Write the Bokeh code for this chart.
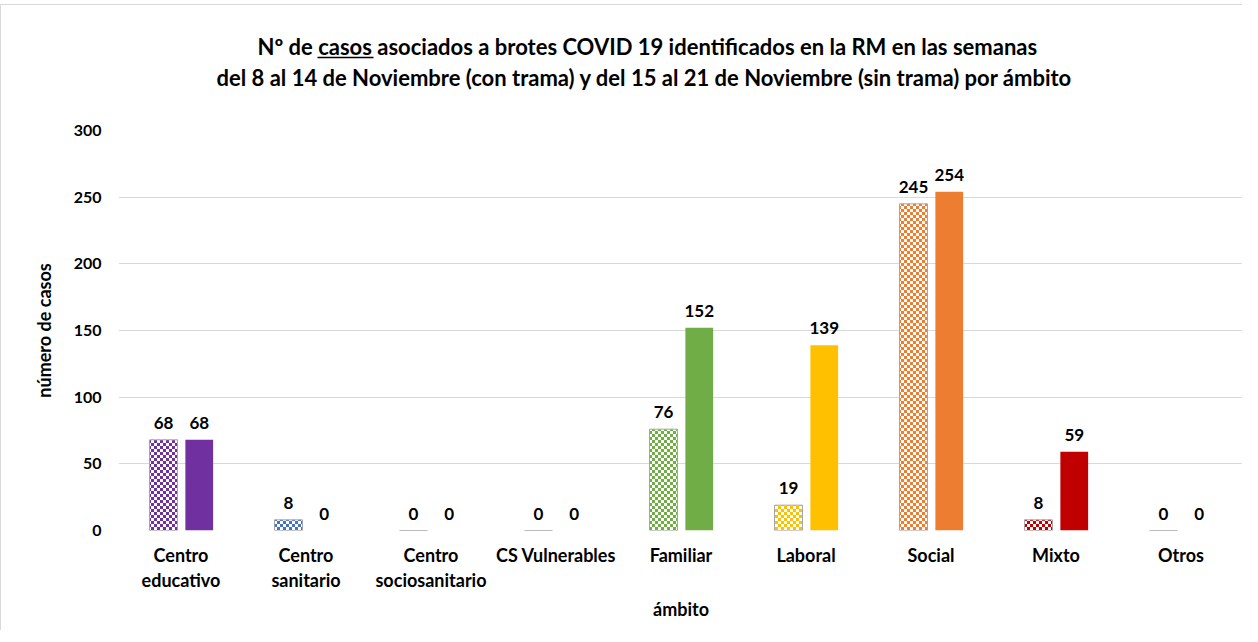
import zlib, struct, base64
from bokeh.plotting import figure
from bokeh.models import (ColumnDataSource, FactorRange, Range1d, FixedTicker, Title,
                          ImageURLTexture, CategoricalAxis, CustomJSTickFormatter)
from bokeh.transform import dodge
from bokeh.core.properties import value
from bokeh.embed import file_html
from bokeh.resources import INLINE

# ---------------- data ----------------
categories = ["Centro educativo", "Centro sanitario", "Centro sociosanitario", "CS Vulnerables",
              "Familiar", "Laboral", "Social", "Mixto", "Otros"]
label_line1 = ["Centro", "Centro", "Centro", "CS Vulnerables",
               "Familiar", "Laboral", "Social", "Mixto", "Otros"]
label_line2 = ["educativo", "sanitario", "sociosanitario", "", "", "", "", "", ""]
week_8_14 = [68, 8, 0, 0, 76, 19, 245, 8, 0]      # con trama
week_15_21 = [68, 0, 0, 0, 152, 139, 254, 59, 0]  # sin trama
colors = ["#7030A0", "#4472C4", "#A5A5A5", "#5B9BD5", "#70AD47", "#FFC000", "#ED7D31", "#C00000", "#7F7F7F"]
y_ticks = [0, 50, 100, 150, 200, 250, 300]

title_line1 = "Nº de casos asociados a brotes COVID 19 identificados en la RM en las semanas"
title_line2 = "del 8 al 14 de Noviembre (con trama) y del 15 al 21 de Noviembre (sin trama) por ámbito"
x_label = "ámbito"
y_label = "número de casos"

FONT = "Lato"
PX_PER_CAT = 125.0  # frame width 1125 / 9 categories


def checker_png(hex_color, sq=3):
    r, g, b = int(hex_color[1:3], 16), int(hex_color[3:5], 16), int(hex_color[5:7], 16)
    n = 2 * sq
    raw = b""
    for yy in range(n):
        raw += b"\x00"
        for xx in range(n):
            if ((xx // sq) + (yy // sq)) % 2 == 0:
                raw += bytes([r, g, b, 255])
            else:
                raw += bytes([255, 255, 255, 255])

    def chunk(t, d):
        return struct.pack(">I", len(d)) + t + d + struct.pack(">I", zlib.crc32(t + d) & 0xffffffff)

    png = (b"\x89PNG\r\n\x1a\n" + chunk(b"IHDR", struct.pack(">IIBBBBB", n, n, 8, 6, 0, 0, 0))
           + chunk(b"IDAT", zlib.compress(raw)) + chunk(b"IEND", b""))
    return "data:image/png;base64," + base64.b64encode(png).decode()


def label_formatter(lines):
    return CustomJSTickFormatter(args=dict(keys=categories, vals=lines),
                                 code="const i = keys.indexOf(tick); return i >= 0 ? vals[i] : tick;")


pattern_keys = ["chk%d" % i for i in range(len(categories))]
textures = {k: ImageURLTexture(url=checker_png(c)) for k, c in zip(pattern_keys, colors)}

source = ColumnDataSource(dict(
    cat=categories, w1=week_8_14, w2=week_15_21, color=colors, pat=pattern_keys,
    t1=[str(v) for v in week_8_14], t2=[str(v) for v in week_15_21],
))

p = figure(x_range=FactorRange(factors=categories), y_range=Range1d(0, 300),
           width=1242, height=626, output_backend="svg", toolbar_location=None,
           min_border_left=117, min_border_right=0, min_border_top=125, min_border_bottom=101)
p.styles = {"margin-top": "4px", "border-left": "1px solid #d9d9d9", "border-top": "1px solid #d9d9d9"}
p.outline_line_color = None
p.background_fill_color = "white"
p.border_fill_color = "white"

p.xgrid.grid_line_color = None
p.ygrid.grid_line_color = "#d9d9d9"
p.ygrid.grid_line_width = 1.2

# bars
p.vbar(x=dodge("cat", -0.14, range=p.x_range), top="w1", width=0.224, source=source,
       fill_color="white", line_color="#a6a6a6", line_width=1,
       hatch_pattern="pat", hatch_extra=textures)
p.vbar(x=dodge("cat", 0.146, range=p.x_range), top="w2", width=0.222, source=source,
       fill_color="color", line_color=None)

# data labels
for off, tfld, yfld in [(-0.14, "t1", "w1"), (0.146, "t2", "w2")]:
    p.text(x=dodge("cat", off, range=p.x_range), y=yfld, text=tfld, source=source,
           y_offset=-11, text_align="center", text_baseline="bottom",
           text_font=value(FONT), text_font_style="bold", text_font_size="17px", text_color="black")

# second line of category labels
ax2 = CategoricalAxis()
p.add_layout(ax2, "below")

p.yaxis.ticker = FixedTicker(ticks=y_ticks)
for ax in (p.xaxis[0], ax2, p.yaxis[0]):
    ax.axis_line_color = None
    ax.major_tick_line_color = None
    ax.minor_tick_line_color = None
    ax.major_tick_out = 0
    ax.major_tick_in = 0
    ax.major_label_text_font = FONT
    ax.major_label_text_font_style = "bold"
    ax.major_label_text_font_size = "18px"
    ax.major_label_text_color = "black"
    ax.axis_label_text_font = FONT
    ax.axis_label_text_font_style = "bold"
    ax.axis_label_text_font_size = "18px"
    ax.axis_label_text_color = "black"

p.yaxis.major_label_text_font_size = "16px"
p.yaxis.major_label_standoff = 17
p.yaxis.axis_label = y_label
p.yaxis.axis_label_standoff = 16

p.xaxis[0].major_label_standoff = 13
p.xaxis[0].formatter = label_formatter(label_line1)
ax2.major_label_standoff = 0
ax2.formatter = label_formatter(label_line2)
ax2.axis_label = x_label
ax2.axis_label_standoff = 4

# title: two lines, with "casos" underlined by a short bounded axis line
spacer = Title(text=" ", standoff=22, text_font=FONT, text_font_size="10px")
t2 = Title(text=title_line2, align="left", offset=98, standoff=8,
           text_font=FONT, text_font_style="bold", text_font_size="22px", text_color="black")
ul = CategoricalAxis(bounds=(199 / PX_PER_CAT, 255 / PX_PER_CAT),
                     axis_line_color="black", axis_line_width=1.3,
                     major_tick_line_color=None, minor_tick_line_color=None,
                     major_tick_out=0, major_tick_in=0,
                     major_label_text_font_size="0px", major_label_text_alpha=0,
                     major_label_standoff=0, separator_line_color=None)
t1 = Title(text=title_line1, align="left", offset=139, standoff=-4,
           text_font=FONT, text_font_style="bold", text_font_size="22px", text_color="black")
p.add_layout(spacer, "above")
p.add_layout(t2, "above")
p.add_layout(ul, "above")
p.add_layout(t1, "above")

open("out.html", "w").write(file_html(p, INLINE))
